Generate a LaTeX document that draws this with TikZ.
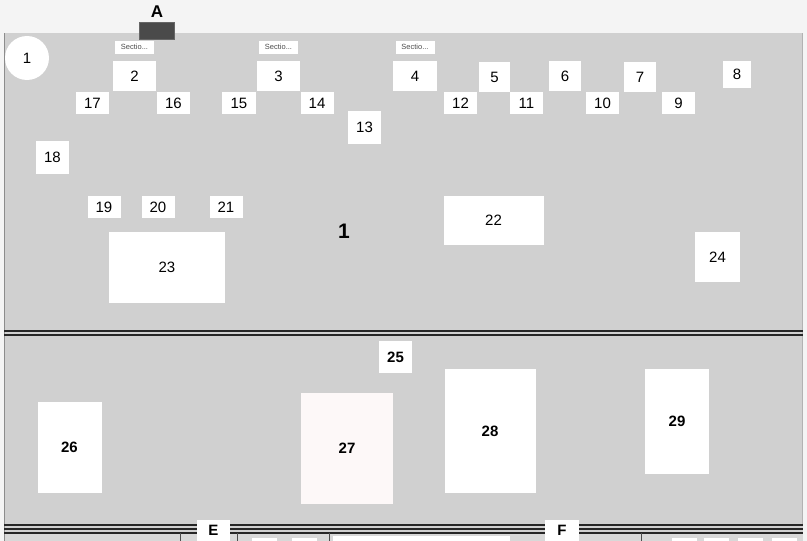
\documentclass[tikz,border=0pt]{standalone}
\usepackage{fontspec}
\setmainfont{Liberation Sans}
\usetikzlibrary{positioning}
\definecolor{page}{HTML}{F4F4F4}
\definecolor{panel}{HTML}{D0D0D0}
\definecolor{strip}{HTML}{D8D8D8}
\definecolor{tabgrey}{HTML}{4A4A4A}
\definecolor{blush}{HTML}{FDF8F8}

\begin{document}
\begin{tikzpicture}[x=1pt,y=-1pt,
  cell/.style={fill=white,inner sep=0pt,minimum width=33pt,minimum height=22pt,font=\fontsize{15}{15}\selectfont},
  tag/.style={fill=white,inner sep=0pt,minimum width=39pt,minimum height=13pt,text=black!70,font=\fontsize{7.5}{7.5}\selectfont},
  zone/.style={cell,font=\bfseries\fontsize{15}{15}\selectfont},
  rule/.style={line width=1.7pt,black!85},
  tick/.style={black!70,line width=0.8pt}]
\useasboundingbox (0,0) rectangle (807,541);
\fill[page] (0,0) rectangle (807,541);
\fill[panel] (4,33) rectangle (803,541);
\fill[strip] (4,534) rectangle (803,541);
\draw[black!45] (4.5,33) -- (4.5,541);
\draw[black!30] (802.5,33) -- (802.5,525);
%%%%%%%%%%%%%%
\node[fill=tabgrey,draw=black!60,minimum width=35pt,minimum height=17pt,inner sep=0pt] (tabA) at (156.5,30.5) {};
\node[font=\bfseries\fontsize{17}{17}\selectfont] (labA) at (157,12) {A};
\node[circle,fill=white,minimum size=44pt,inner sep=0pt,font=\fontsize{15}{15}\selectfont] (c1) at (27,58) {1};
%%%%%%%%%%%%%%
\node[cell,minimum width=43pt,minimum height=30pt] (b2) at (134.5,76) {2};
\node[cell,minimum width=43pt,minimum height=30pt] (b3) at (278.5,76) {3};
\node[cell,minimum width=44pt,minimum height=30pt] (b4) at (415,76) {4};
\node[tag,above=7pt of b2] (s2) {Sectio...};
\node[tag,above=7pt of b3] (s3) {Sectio...};
\node[tag,above=7pt of b4] (s4) {Sectio...};
\node[cell,minimum width=31pt,minimum height=30pt] (b5) at (494.5,77) {5};
\node[cell,minimum width=32pt,minimum height=30pt] (b6) at (565,76) {6};
\node[cell,minimum width=32pt,minimum height=30pt] (b7) at (640,77) {7};
\node[cell,minimum width=28pt,minimum height=27pt] (b8) at (737,74.5) {8};
\node[cell] (b9) at (678.5,103) {9};
\node[cell] (b10) at (602.5,103) {10};
\node[cell] (b11) at (526.5,103) {11};
\node[cell] (b12) at (460.5,103) {12};
\node[cell,minimum height=33pt] (b13) at (364.5,127.5) {13};
\node[cell] (b14) at (317,103) {14};
\node[cell,minimum width=34pt] (b15) at (239,103) {15};
\node[cell] (b16) at (173.5,103) {16};
\node[cell] (b17) at (92.5,103) {17};
\node[cell,minimum height=33pt] (b18) at (52.5,157.5) {18};
\node[cell] (b19) at (104,207) {19};
\node[cell] (b20) at (158,207) {20};
\node[cell] (b21) at (226,207) {21};
\node[cell,minimum width=100pt,minimum height=49pt] (b22) at (493.5,220.5) {22};
\node[cell,minimum width=116pt,minimum height=71pt] (b23) at (167,267.5) {23};
\node[cell,minimum width=45pt,minimum height=50pt] (b24) at (717.5,257) {24};
\node[font=\bfseries\fontsize{21}{21}\selectfont] (t1) at (344,231) {1};
%%%%%%%%%%%%%%
\draw[rule] (4,331) -- (803,331);
\draw[rule] (4,335) -- (803,335);
%%%%%%%%%%%%%%
\node[zone,minimum height=32pt] (b25) at (395.5,357) {25};
\node[zone,minimum width=64pt,minimum height=91pt] (b26) at (69.5,447.5) {26};
\node[zone,fill=blush,minimum width=92pt,minimum height=111pt] (b27) at (347,448.5) {27};
\node[zone,minimum width=91pt,minimum height=124pt] (b28) at (490,431) {28};
\node[zone,minimum width=64pt,minimum height=105pt] (b29) at (677,421.5) {29};
%%%%%%%%%%%%%%
\draw[rule] (4,525) -- (803,525);
\draw[rule] (4,529) -- (803,529);
\draw[rule] (4,533) -- (803,533);
\draw[tick] (180,533) -- (180,541);
\draw[tick] (237,533) -- (237,541);
\draw[tick] (329,533) -- (329,541);
\draw[tick] (641,533) -- (641,541);
\fill[white] (252,538) rectangle (277,541);
\fill[white] (292,538) rectangle (317,541);
\fill[white] (333,536) rectangle (510,541);
\fill[white] (672,538) rectangle (697,541);
\fill[white] (704,538) rectangle (729,541);
\fill[white] (738,538) rectangle (763,541);
\fill[white] (772,538) rectangle (797,541);
\node[zone,minimum height=21pt] (bE) at (213.5,530) {E};
\node[zone,minimum width=34pt,minimum height=21pt] (bF) at (562,530) {F};
\end{tikzpicture}
\end{document}
